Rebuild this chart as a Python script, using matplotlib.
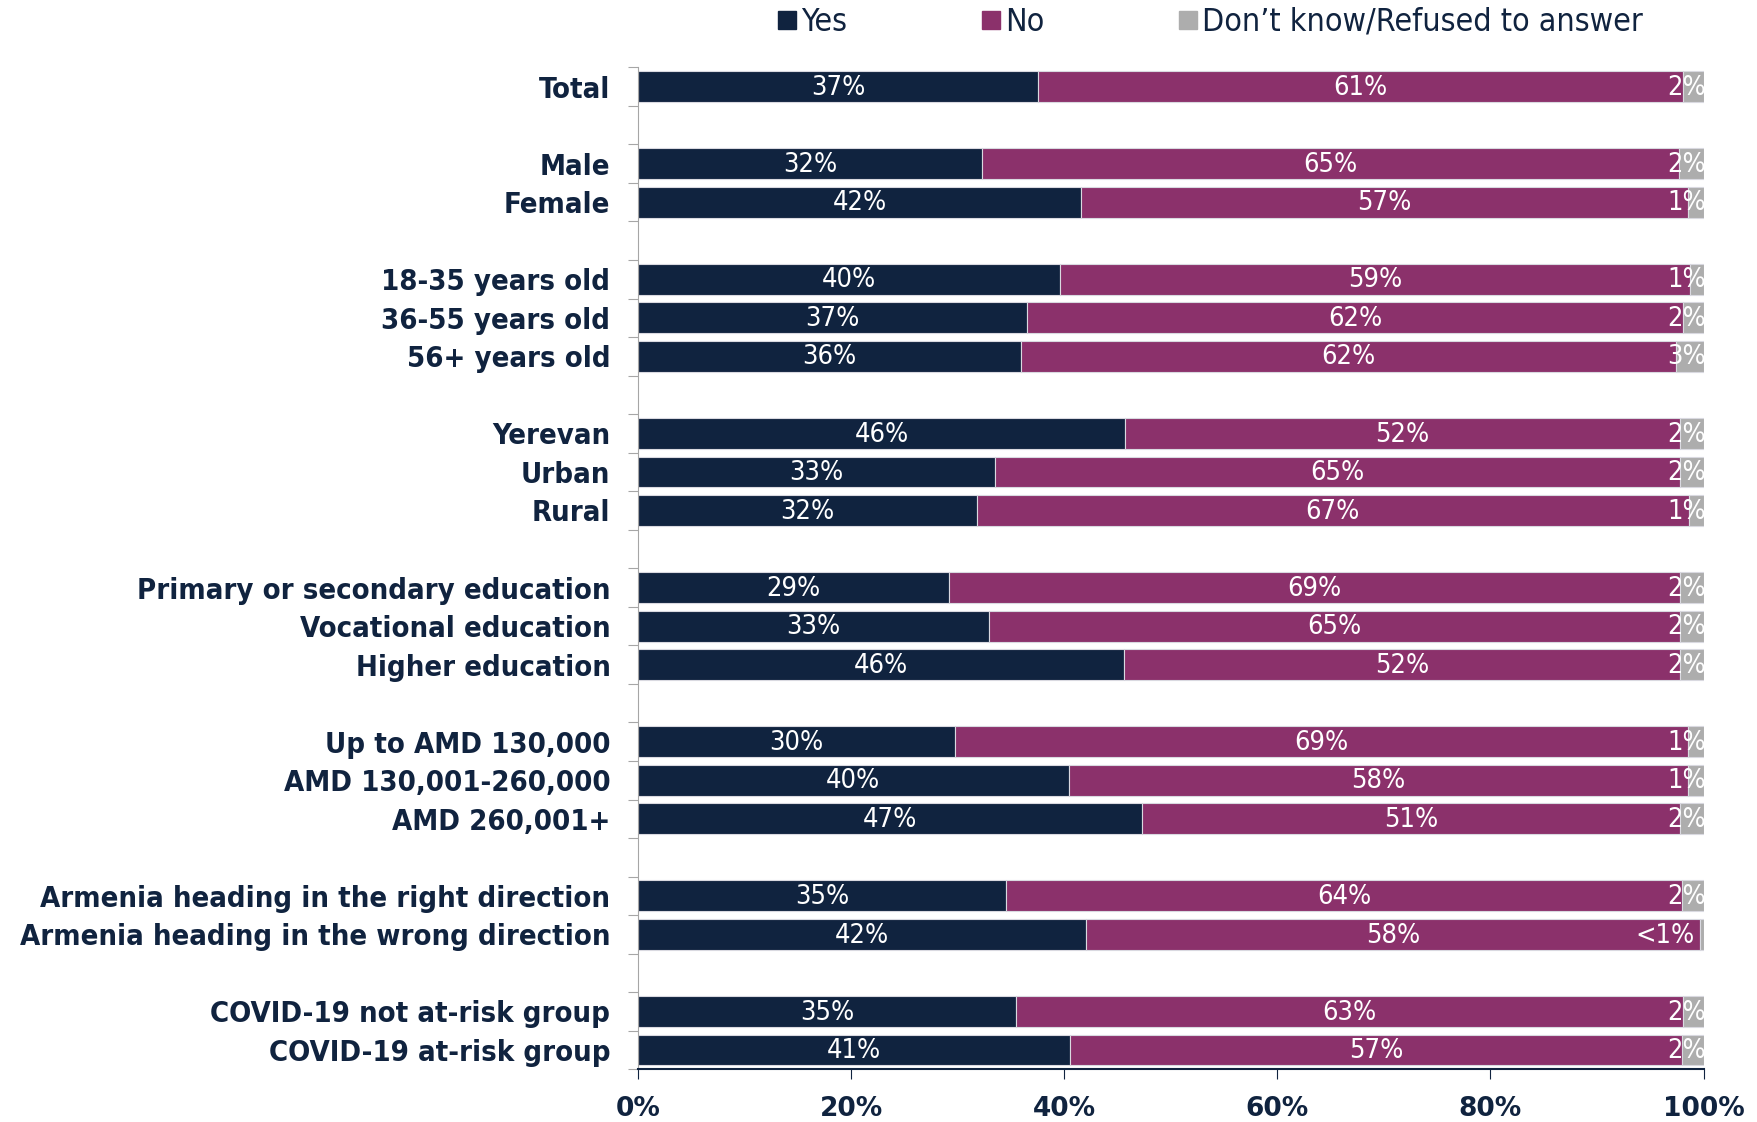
import numpy as np
import matplotlib.pyplot as plt
from matplotlib.lines import Line2D

# rows (None = blank spacer row between groups)
groups = ["Total", None,
          "Male", "Female", None,
          "18-35 years old", "36-55 years old", "56+ years old", None,
          "Yerevan", "Urban", "Rural", None,
          "Primary or secondary education", "Vocational education", "Higher education", None,
          "Up to AMD 130,000", "AMD 130,001-260,000", "AMD 260,001+", None,
          "Armenia heading in the right direction", "Armenia heading in the wrong direction", None,
          "COVID-19 not at-risk group", "COVID-19 at-risk group"]

yes = [37.5, 32.3, 41.6, 39.6, 36.5, 35.9, 45.7, 33.5, 31.8,
       29.2, 32.9, 45.6, 29.7, 40.4, 47.3, 34.5, 42.0, 35.5, 40.5]
no = [60.6, 65.4, 56.9, 59.1, 61.6, 61.5, 52.1, 64.3, 66.8,
      68.6, 64.9, 52.2, 68.8, 58.1, 50.5, 63.5, 57.7, 62.6, 57.5]
dk = [1.9, 2.3, 1.5, 1.3, 1.9, 2.6, 2.2, 2.2, 1.4,
      2.2, 2.2, 2.2, 1.5, 1.5, 2.2, 2.0, 0.3, 1.9, 2.0]

yes_lbl = ["37%", "32%", "42%", "40%", "37%", "36%", "46%", "33%", "32%",
           "29%", "33%", "46%", "30%", "40%", "47%", "35%", "42%", "35%", "41%"]
no_lbl = ["61%", "65%", "57%", "59%", "62%", "62%", "52%", "65%", "67%",
          "69%", "65%", "52%", "69%", "58%", "51%", "64%", "58%", "63%", "57%"]
dk_lbl = ["2%", "2%", "1%", "1%", "2%", "3%", "2%", "2%", "1%",
          "2%", "2%", "2%", "1%", "1%", "2%", "2%", "<1%", "2%", "2%"]

series = ["Yes", "No", "Don\u2019t know/Refused to answer"]
colors = ["#10233f", "#8b316b", "#adadad"]
navy = "#10233f"

plt.rcParams['font.family'] = ['DejaVu Sans']

fig = plt.figure(figsize=(17.58, 11.22), dpi=100)
ax = fig.add_axes([0.363, 0.047, 0.606, 0.893])

n = len(groups)
ypos = [i for i, g in enumerate(groups) if g is not None]
labels = [g for g in groups if g is not None]
ypos = np.array(ypos)

yes = np.array(yes); no = np.array(no); dk = np.array(dk)
bh = 0.8
ax.barh(ypos, yes, height=bh, color=colors[0], edgecolor="#d9d9e0", linewidth=0.8)
ax.barh(ypos, no, left=yes, height=bh, color=colors[1], edgecolor="#d9d9e0", linewidth=0.8)
ax.barh(ypos, dk, left=yes + no, height=bh, color=colors[2], edgecolor="#d9d9e0", linewidth=0.8)

vfont = dict(color="white", fontsize=19.5, fontstretch="condensed", va="center")
for i, y in enumerate(ypos):
    ax.text(yes[i] / 2, y + 0.03, yes_lbl[i], ha="center", **vfont)
    ax.text(yes[i] + no[i] / 2, y + 0.03, no_lbl[i], ha="center", **vfont)
    end = yes[i] + no[i] + dk[i]
    off = 0.8 if dk_lbl[i].startswith("<") else -0.2
    ax.text(end - off, y + 0.03, dk_lbl[i], ha="right", **vfont)

ax.set_xlim(0, 100)
ax.set_ylim(n - 0.5, -0.5)
ax.set_yticks(np.arange(-0.5, n, 1.0))
ax.set_yticklabels([])
ax.set_yticks(ypos, minor=True)
ax.set_yticklabels(labels, minor=True)
ax.tick_params(axis="y", which="major", length=7, color="#a6a6a6", direction="out")
ax.tick_params(axis="y", which="minor", length=0, pad=20, labelsize=21, labelcolor=navy)
for t in ax.get_yticklabels(minor=True):
    t.set_fontweight("bold")
    t.set_fontstretch("condensed")

ax.set_xticks(np.arange(0, 101, 20))
ax.set_xticklabels([f"{v}%" for v in range(0, 101, 20)])
ax.tick_params(axis="x", length=7, color=navy, direction="out", pad=12,
               labelsize=19, labelcolor=navy)
for t in ax.get_xticklabels():
    t.set_fontweight("bold")

for s in ["top", "right"]:
    ax.spines[s].set_visible(False)
ax.spines["left"].set_color("#a6a6a6")
ax.spines["bottom"].set_color(navy)
ax.spines["bottom"].set_linewidth(1.5)

handles = [Line2D([], [], marker="s", linestyle="none", markersize=13,
                  markerfacecolor=c, markeredgecolor=c) for c in colors]
fig.legend(handles, series, loc="center", bbox_to_anchor=(0.682, 0.980), ncol=3,
           frameon=False, handletextpad=-0.55, columnspacing=3.5,
           prop=dict(size=23, stretch="condensed"), labelcolor=navy)

fig.savefig("out.png", dpi=100)
